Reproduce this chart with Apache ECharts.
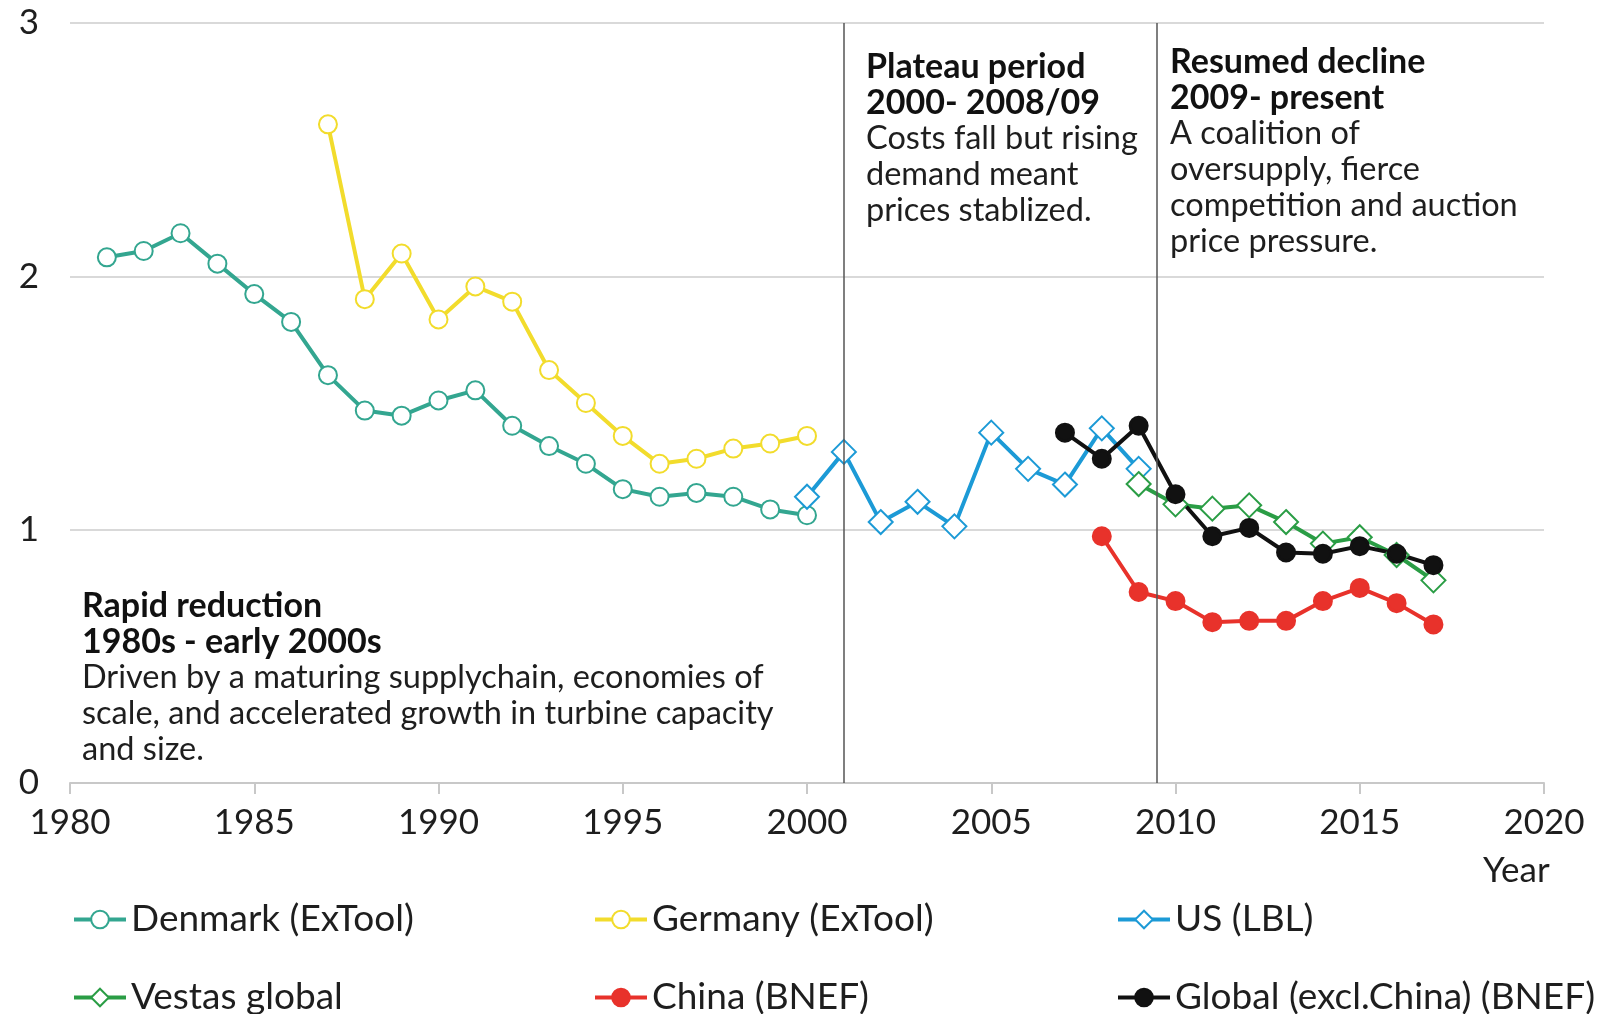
<!DOCTYPE html>
<html>
<head>
<meta charset="utf-8">
<script src="https://cdn.jsdelivr.net/npm/echarts@6/dist/echarts.min.js"></script>
<style>
  html, body { margin: 0; padding: 0; background: #fff; }
  #chart { width: 1624px; height: 1014px; }
</style>
</head>
<body>
<div id="chart"></div>
<script>
// years and values
const denmarkYears = [1981, 1982, 1983, 1984, 1985, 1986, 1987, 1988, 1989, 1990, 1991, 1992, 1993, 1994, 1995, 1996, 1997, 1998, 1999, 2000]
const denmarkValues = [2.075, 2.10, 2.17, 2.05, 1.93, 1.82, 1.61, 1.47, 1.45, 1.51, 1.55, 1.41, 1.33, 1.26, 1.16, 1.13, 1.145, 1.13, 1.08, 1.057]

const germanyYears = [1987, 1988, 1989, 1990, 1991, 1992, 1993, 1994, 1995, 1996, 1997, 1998, 1999, 2000]
const germanyValues = [2.60, 1.91, 2.09, 1.83, 1.96, 1.90, 1.63, 1.50, 1.37, 1.26, 1.28, 1.32, 1.34, 1.37]

const usYears = [2000, 2001, 2002, 2003, 2004, 2005, 2006, 2007, 2008, 2009]
const usValues = [1.13, 1.307, 1.03, 1.11, 1.013, 1.383, 1.24, 1.178, 1.40, 1.24]

const vestasYears = [2009, 2010, 2011, 2012, 2013, 2014, 2015, 2016, 2017]
const vestasValues = [1.18, 1.10, 1.083, 1.096, 1.03, 0.945, 0.97, 0.90, 0.80]

const chinaYears = [2008, 2009, 2010, 2011, 2012, 2013, 2014, 2015, 2016, 2017]
const chinaValues = [0.974, 0.754, 0.718, 0.635, 0.64, 0.64, 0.718, 0.77, 0.71, 0.626]

const globalYears = [2007, 2008, 2009, 2010, 2011, 2012, 2013, 2014, 2015, 2016, 2017]
const globalValues = [1.383, 1.28, 1.41, 1.14, 0.974, 1.007, 0.91, 0.905, 0.935, 0.905, 0.86]

const dividerYears = [2001, 2009.5]

const FONT = 'Lato, "Noto Sans", sans-serif'
const TEXT_COLOR = '#1e1e1e'

const pairs = (xs, ys) => xs.map((x, i) => [x, ys[i]])

const makeSeries = (name, xs, ys, color, symbol, size) => {
  return {
    name,
    type: 'line',
    data: pairs(xs, ys),
    symbol,
    symbolSize: size,
    showAllSymbol: true,
    lineStyle: { width: 4, color },
    itemStyle: { color, borderColor: color, borderWidth: 3 }
  }
}

const series = [
  makeSeries('Denmark (ExTool)', denmarkYears, denmarkValues, '#33a690', 'emptyCircle', 18),
  makeSeries('Germany (ExTool)', germanyYears, germanyValues, '#f2dc2c', 'emptyCircle', 18),
  makeSeries('US (LBL)', usYears, usValues, '#1c9ad6', 'emptyDiamond', 24),
  makeSeries('Vestas global', vestasYears, vestasValues, '#2a9d45', 'emptyDiamond', 24),
  makeSeries('China (BNEF)', chinaYears, chinaValues, '#e8322b', 'circle', 17),
  makeSeries('Global (excl.China) (BNEF)', globalYears, globalValues, '#111111', 'circle', 17)
]

// the two period dividers
series[0].markLine = {
  silent: true,
  symbol: 'none',
  animation: false,
  label: { show: false },
  lineStyle: { color: '#555', width: 1.5, type: 'solid' },
  data: dividerYears.map(y => [{ coord: [y, 0] }, { coord: [y, 3] }])
}

const legendAt = (name, left, top) => ({
  data: [name],
  left,
  top,
  padding: 0,
  itemWidth: 52,
  itemHeight: 22,
  selectedMode: false,
  lineStyle: { width: 4 },
  textStyle: { fontFamily: FONT, fontSize: 37, color: TEXT_COLOR }
})

const note = (left, top, head, body) => [
  {
    type: 'text', left, top,
    style: { text: head, font: 'bold 34px ' + FONT, fill: '#111', lineHeight: 36 }
  },
  {
    type: 'text', left, top: top + 72,
    style: { text: body, font: '32.5px ' + FONT, fill: TEXT_COLOR, lineHeight: 36 }
  }
]

const option = {
  animation: false,
  grid: { left: 70, right: 80, top: 23, bottom: 231, containLabel: false },
  xAxis: {
    type: 'value',
    min: 1980,
    max: 2020,
    interval: 5,
    axisLine: { show: true, lineStyle: { color: '#c8c8c8', width: 2 } },
    axisTick: { show: true, length: 11, lineStyle: { color: '#c8c8c8', width: 2 } },
    splitLine: { show: false },
    axisLabel: { margin: 22, fontFamily: FONT, fontSize: 35, color: TEXT_COLOR, formatter: v => String(v) }
  },
  yAxis: {
    type: 'value',
    min: 0,
    max: 3,
    interval: 1,
    axisLine: { show: false },
    axisTick: { show: false },
    splitLine: { lineStyle: { color: '#d9d9d9', width: 2 } },
    axisLabel: { margin: 31, fontFamily: FONT, fontSize: 35, color: TEXT_COLOR }
  },
  legend: [
    legendAt('Denmark (ExTool)', 72, 901),
    legendAt('Germany (ExTool)', 593, 901),
    legendAt('US (LBL)', 1116, 901),
    legendAt('Vestas global', 72, 979),
    legendAt('China (BNEF)', 593, 979),
    legendAt('Global (excl.China) (BNEF)', 1116, 979)
  ],
  graphic: [
    ...note(866, 49, 'Plateau period\n2000- 2008/09', 'Costs fall but rising\ndemand meant\nprices stablized.'),
    ...note(1170, 44, 'Resumed decline\n2009- present', 'A coalition of\noversupply, fierce\ncompetition and auction\nprice pressure.'),
    ...note(82, 588, 'Rapid reduction\n1980s - early 2000s', 'Driven by a maturing supplychain, economies of\nscale, and accelerated growth in turbine capacity\nand size.'),
    {
      type: 'text', left: 1483, top: 853,
      style: { text: 'Year', font: '35px ' + FONT, fill: TEXT_COLOR }
    }
  ],
  series
}

const chart = echarts.init(document.getElementById('chart'))
chart.setOption(option)
</script>
</body>
</html>
